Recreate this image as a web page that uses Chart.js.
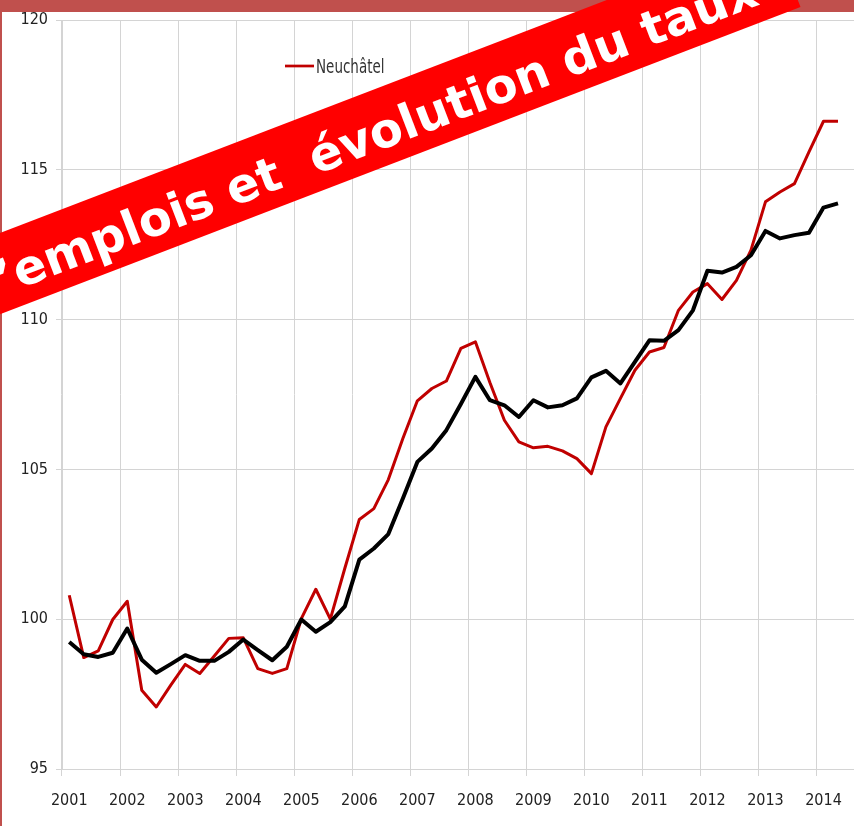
<!DOCTYPE html>
<html lang="fr">
<head>
<meta charset="UTF-8">
<title>Neuchâtel</title>
<script src="https://cdn.jsdelivr.net/npm/chart.js"></script>
<style>
    body {
        margin: 0;
        padding: 0;
        background: #fff;
        overflow: hidden;
    }
    #wrap {
        position: relative;
        width: 854px;
        height: 826px;
        overflow: hidden;
        background: #fff;
    }
    #chart {
        position: absolute;
        left: 0;
        top: 0;
    }
    .topbar {
        position: absolute;
        left: 0;
        top: 0;
        width: 854px;
        height: 12px;
        background: #C0504D;
    }
    .leftbar {
        position: absolute;
        left: 0;
        top: 0;
        width: 2px;
        height: 826px;
        background: #C0504D;
    }
    #legend {
        position: absolute;
        left: 285px;
        top: 57px;
        font-family: 'Liberation Sans Narrow', 'DejaVu Sans Condensed', sans-serif;
        font-size: 15px;
        line-height: 18px;
        color: #333;
        display: flex;
        align-items: center;
        transform: scaleY(1.35);
    }
    #legend .swatch {
        display: inline-block;
        width: 29px;
        height: 2.4px;
        margin-right: 2px;
    }
    /* bandeau rouge en travers */
    .banner {
        position: absolute;
        left: -100px;
        top: 274px;
        width: 950px;
        height: 76px;
        background: #FF0000;
        transform-origin: 0 50%;
        transform: rotate(-21deg);
        color: #fff;
        font-family: 'DejaVu Sans', sans-serif;
        font-weight: bold;
        font-size: 48px;
        line-height: 84px;
        white-space: pre;
        padding-left: 68px;
        box-sizing: border-box;
        overflow: hidden;
    }
</style>
</head>
<body>
<div id="wrap">
    <canvas id="chart" width="882" height="826"></canvas>
    <div class="topbar"></div>
    <div class="leftbar"></div>
    <div id="legend"></div>
    <div class="banner">d’emplois et  évolution du taux</div>
</div>

<script>
    // années affichées, 4 trimestres par année
    const years = [2001, 2002, 2003, 2004, 2005, 2006, 2007, 2008, 2009, 2010, 2011, 2012, 2013, 2014];
    const quarters = ["T1", "T2", "T3", "T4"];

    // indices trimestriels (2001 T1 - 2014 T2)
    const neuchatel = [
        100.8, 98.72, 98.94, 99.99,
        100.6, 97.63, 97.07, 97.8,
        98.49, 98.19, 98.77, 99.36,
        99.38, 98.35, 98.19, 98.35,
        100.02, 101.0, 100.0, 101.7,
        103.33, 103.69, 104.66, 106.03,
        107.29, 107.7, 107.95, 109.04,
        109.26, 107.9, 106.64, 105.92,
        105.72, 105.77, 105.62, 105.36,
        104.86, 106.42, 107.37, 108.31,
        108.92, 109.07, 110.31, 110.92,
        111.2, 110.67, 111.31, 112.32,
        113.93, 114.26, 114.54, 115.6,
        116.62, 116.62
    ];
    const blackSeries = [
        99.24, 98.83, 98.74, 98.88,
        99.69, 98.65, 98.21, 98.5,
        98.8, 98.61, 98.61, 98.91,
        99.32, 98.97, 98.63, 99.08,
        99.99, 99.58, 99.9, 100.43,
        101.99, 102.36, 102.84, 104.03,
        105.25, 105.7, 106.31, 107.18,
        108.09, 107.31, 107.14, 106.75,
        107.31, 107.07, 107.14, 107.37,
        108.07, 108.29, 107.87, 108.59,
        109.31, 109.29, 109.65, 110.31,
        111.63, 111.57, 111.76, 112.15,
        112.96, 112.71, 112.82, 112.9,
        113.74, 113.88
    ];

    const labels = [];
    years.forEach(y => quarters.forEach(q => labels.push(y + " " + q)));

    const gridColor = "#d4d4d4";
    const tickFont = { family: "'Liberation Sans Narrow', 'DejaVu Sans Condensed', sans-serif", size: 16 };

    const chart = new Chart(document.getElementById("chart").getContext("2d"), {
        type: "line",
        data: {
            labels: labels,
            datasets: [
                {
                    label: "Neuchâtel",
                    data: neuchatel,
                    borderColor: "#C00000",
                    borderWidth: 3,
                    pointRadius: 0,
                    tension: 0,
                    fill: false,
                    borderJoinStyle: "round",
                    order: 2
                },
                {
                    label: "",
                    data: blackSeries,
                    borderColor: "#000000",
                    borderWidth: 4,
                    pointRadius: 0,
                    tension: 0,
                    fill: false,
                    borderJoinStyle: "round",
                    order: 1
                }
            ]
        },
        options: {
            responsive: false,
            animation: false,
            layout: { padding: { top: 20, right: 0, left: 0, bottom: 0 } },
            plugins: {
                legend: { display: false },
                tooltip: { enabled: false }
            },
            scales: {
                x: {
                    type: "category",
                    offset: true,
                    grid: {
                        offset: true,
                        color: ctx => (ctx.index % 4 === 0 ? gridColor : "rgba(0,0,0,0)"),
                        tickLength: 7
                    },
                    border: { color: gridColor },
                    ticks: {
                        autoSkip: false,
                        maxRotation: 0,
                        minRotation: 0,
                        padding: 15,
                        color: "#222",
                        font: tickFont,
                        callback: (v, i) => (i % 4 === 0 ? String(years[i / 4]) : "")
                    },
                    afterFit: s => { s.height = 57; }
                },
                y: {
                    min: 95,
                    max: 120,
                    ticks: {
                        stepSize: 5,
                        padding: 8,
                        color: "#222",
                        font: tickFont
                    },
                    grid: { color: gridColor, tickLength: 6 },
                    border: { color: gridColor },
                    afterFit: s => { s.width = 62; }
                }
            }
        }
    });

    // légende (seule l'entrée Neuchâtel est visible)
    const ds = chart.data.datasets[0];
    document.getElementById("legend").innerHTML =
        '<span class="swatch" style="background:' + ds.borderColor + '"></span>' + ds.label;
</script>
</body>
</html>
